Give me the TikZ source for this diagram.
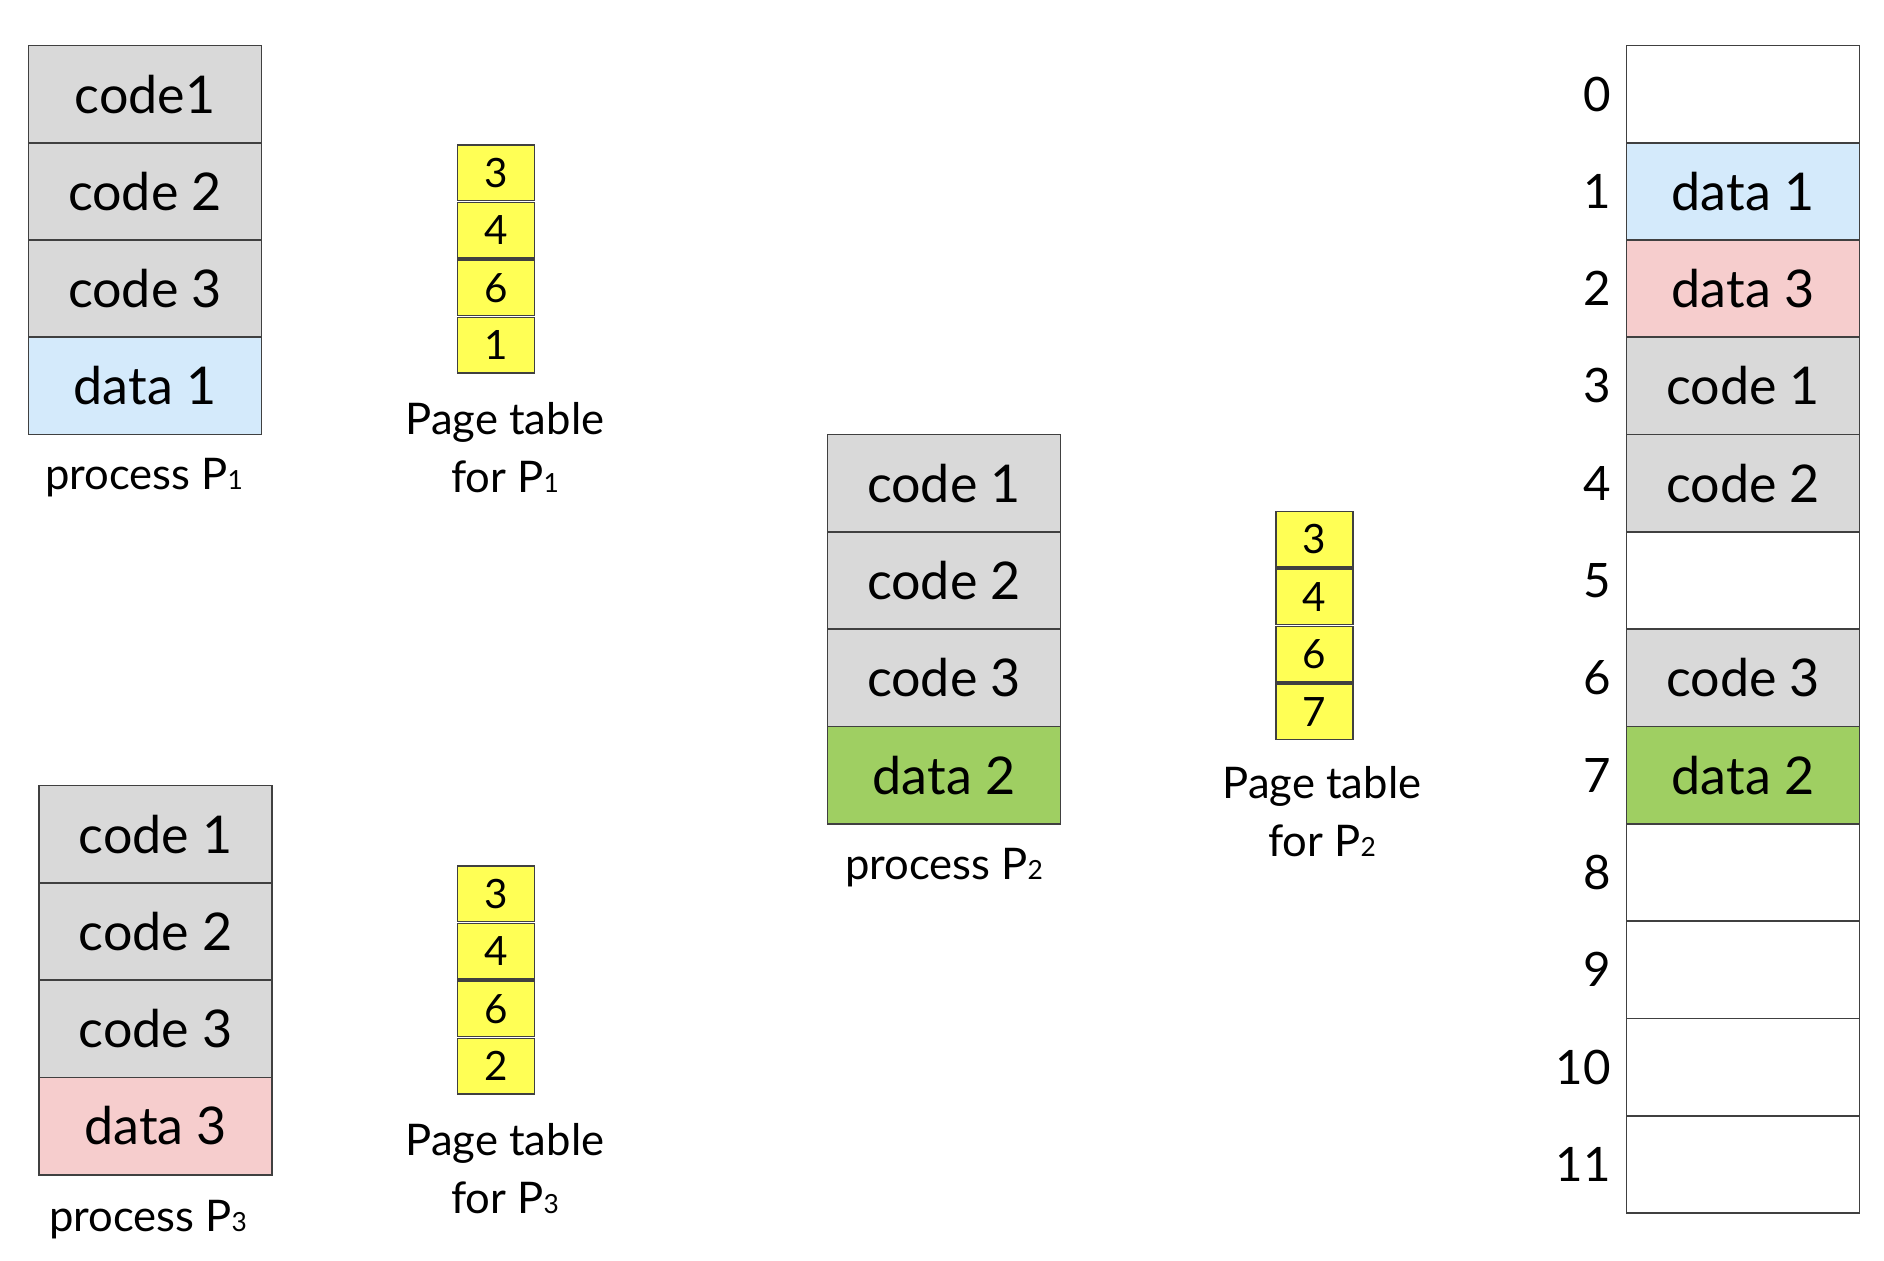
\documentclass[tikz,border=0pt]{standalone}
\usepackage{fontspec}
\setmainfont{Lato}
\usetikzlibrary{positioning}

\definecolor{codegray}{HTML}{D9D9D9}
\definecolor{datablue}{HTML}{D4EAFB}
\definecolor{datapink}{HTML}{F6CDCD}
\definecolor{datagreen}{HTML}{9FCF62}
\definecolor{ptyellow}{HTML}{FFFF55}
\definecolor{edgegray}{HTML}{404040}

\newcommand{\psub}[1]{{\fontsize{7.5}{8}\selectfont #1}}

\begin{document}
\begin{tikzpicture}[
  every node/.style={font=\fontsize{14.8}{18}\selectfont},
  page/.style={draw=edgegray, line width=0.5pt, minimum width=2.33cm,
    minimum height=0.973cm, inner sep=0pt, anchor=north west},
  ptentry/.style={draw=edgegray, line width=0.5pt, fill=ptyellow,
    minimum width=0.77cm, minimum height=0.555cm, inner sep=0pt,
    anchor=north west, font=\fontsize{11.5}{13}\selectfont},
  caption/.style={align=center, inner sep=0pt, font=\fontsize{12.4}{16.5}\selectfont},
  framenum/.style={inner sep=0pt, font=\fontsize{13.5}{16}\selectfont}
]

% Canvas
\fill[white] (0,0) rectangle (18.84,12.6);
\useasboundingbox (0,0) rectangle (18.84,12.6);

% Process P1 and its page table
\foreach \txt/\col [count=\i from 0] in {code1/codegray, code 2/codegray, code 3/codegray, data 1/datablue}
  \node[page, fill=\col] (p1-\i) at (0.276, {12.155-0.973*\i}) {\txt};
\node[caption] (p1-cap) at (1.44,7.82) {process P\psub{1}};

\foreach \num [count=\i from 0] in {3,4,6,1}
  \node[ptentry] (pt1-\i) at (4.566, {11.158-0.575*\i}) {\num};
\node[caption] (pt1-cap) at (5.05,8.12) {Page table\\for P\psub{1}};

% Process P2 and its page table
\foreach \txt/\col [count=\i from 0] in {code 1/codegray, code 2/codegray, code 3/codegray, data 2/datagreen}
  \node[page, fill=\col] (p2-\i) at (8.266, {8.263-0.973*\i}) {\txt};
\node[caption] (p2-cap) at (9.44,3.925) {process P\psub{2}};

\foreach \num [count=\i from 0] in {3,4,6,7}
  \node[ptentry] (pt2-\i) at (12.748, {7.494-0.575*\i}) {\num};
\node[caption] (pt2-cap) at (13.22,4.48) {Page table\\for P\psub{2}};

% Process P3 and its page table
\foreach \txt/\col [count=\i from 0] in {code 1/codegray, code 2/codegray, code 3/codegray, data 3/datapink}
  \node[page, fill=\col] (p3-\i) at (0.384, {4.754-0.973*\i}) {\txt};
\node[caption] (p3-cap) at (1.48,0.405) {process P\psub{3}};

\foreach \num [count=\i from 0] in {3,4,6,2}
  \node[ptentry] (pt3-\i) at (4.566, {3.949-0.575*\i}) {\num};
\node[caption] (pt3-cap) at (5.05,0.91) {Page table\\for P\psub{3}};

% Physical memory frames
\foreach \txt/\col [count=\i from 0] in {/white, data 1/datablue, data 3/datapink, code 1/codegray,
    code 2/codegray, /white, code 3/codegray, data 2/datagreen, /white, /white, /white, /white} {
  \node[page, fill=\col] (m-\i) at (16.257, {12.155-0.973*\i}) {\txt};
  \node[framenum, left=0.14cm of m-\i] (n-\i) {\i};
}

\end{tikzpicture}
\end{document}
